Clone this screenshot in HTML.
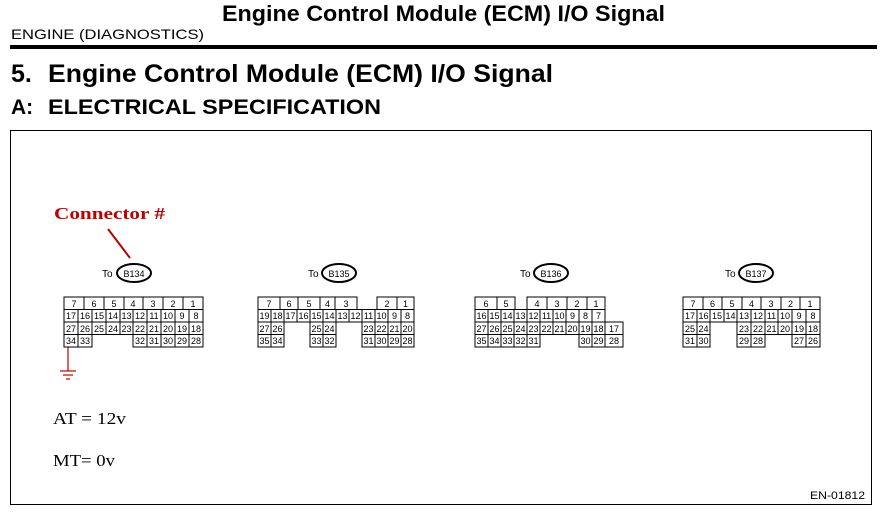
<!DOCTYPE html>
<html><head><meta charset="utf-8"><style>
html,body{margin:0;padding:0;background:#fff;width:883px;height:514px;overflow:hidden}
svg{display:block}
.p{font-family:"Liberation Sans",sans-serif;font-size:9px;text-anchor:middle;fill:#000}
.c rect{fill:none;stroke:#000;stroke-width:1}
</style></head><body>
<svg width="883" height="514" viewBox="0 0 883 514" xmlns="http://www.w3.org/2000/svg">
<text x="222" y="21" font-family="Liberation Sans,sans-serif" font-weight="bold" font-size="22" textLength="443" lengthAdjust="spacingAndGlyphs">Engine Control Module (ECM) I/O Signal</text>
<text x="11" y="39" font-family="Liberation Sans,sans-serif" font-size="14" textLength="193" lengthAdjust="spacingAndGlyphs">ENGINE (DIAGNOSTICS)</text>
<rect x="10" y="45" width="867" height="4" fill="#000"/>
<text x="11" y="82" font-family="Liberation Sans,sans-serif" font-weight="bold" font-size="25">5.</text>
<text x="48" y="82" font-family="Liberation Sans,sans-serif" font-weight="bold" font-size="25" textLength="505" lengthAdjust="spacingAndGlyphs">Engine Control Module (ECM) I/O Signal</text>
<text x="11" y="114" font-family="Liberation Sans,sans-serif" font-weight="bold" font-size="21">A:</text>
<text x="48" y="114" font-family="Liberation Sans,sans-serif" font-weight="bold" font-size="21" textLength="333" lengthAdjust="spacingAndGlyphs">ELECTRICAL SPECIFICATION</text>
<rect x="10.5" y="130.5" width="861" height="374" fill="none" stroke="#000"/>
<text x="54" y="219" font-family="Liberation Serif,serif" font-weight="bold" font-size="17" fill="#c00000" textLength="111" lengthAdjust="spacingAndGlyphs">Connector #</text>
<line x1="108" y1="229" x2="130" y2="258" stroke="#c00000" stroke-width="2"/>
<text x="53" y="424" font-family="Liberation Serif,serif" font-size="17" textLength="73" lengthAdjust="spacingAndGlyphs">AT = 12v</text>
<text x="53" y="466" font-family="Liberation Serif,serif" font-size="17" textLength="62" lengthAdjust="spacingAndGlyphs">MT= 0v</text>
<text x="810" y="499" font-family="Liberation Sans,sans-serif" font-size="11" textLength="55" lengthAdjust="spacingAndGlyphs">EN-01812</text>
<g stroke="#c00000" stroke-width="1.2"><line x1="68" y1="347" x2="68" y2="371"/><line x1="60" y1="371" x2="76" y2="371"/><line x1="63" y1="375" x2="73" y2="375"/><line x1="66" y1="379" x2="70" y2="379"/></g>

<g font-family="Liberation Sans,sans-serif" font-size="10">
<text x="102" y="277">To</text><ellipse cx="134" cy="273" rx="17" ry="9" fill="none" stroke="#000" stroke-width="2"/><text x="134" y="277" text-anchor="middle" font-size="9">B134</text>
<text x="308" y="277">To</text><ellipse cx="339" cy="273" rx="17" ry="9" fill="none" stroke="#000" stroke-width="2"/><text x="339" y="277" text-anchor="middle" font-size="9">B135</text>
<text x="520" y="277">To</text><ellipse cx="551" cy="273" rx="17" ry="9" fill="none" stroke="#000" stroke-width="2"/><text x="551" y="277" text-anchor="middle" font-size="9">B136</text>
<text x="725" y="277">To</text><ellipse cx="756" cy="273" rx="17" ry="9" fill="none" stroke="#000" stroke-width="2"/><text x="756" y="277" text-anchor="middle" font-size="9">B137</text>
</g>

<!-- B134 -->
<g class="c">
<rect x="64" y="297" width="20" height="12.5"/><rect x="84" y="297" width="20" height="12.5"/><rect x="104" y="297" width="20" height="12.5"/><rect x="124" y="297" width="19" height="12.5"/><rect x="143" y="297" width="20" height="12.5"/><rect x="163" y="297" width="20" height="12.5"/><rect x="183" y="297" width="20" height="12.5"/>
<rect x="64" y="309.5" width="14" height="12.5"/><rect x="78" y="309.5" width="14" height="12.5"/><rect x="92" y="309.5" width="14" height="12.5"/><rect x="106" y="309.5" width="14" height="12.5"/><rect x="120" y="309.5" width="13" height="12.5"/><rect x="133" y="309.5" width="14" height="12.5"/><rect x="147" y="309.5" width="14" height="12.5"/><rect x="161" y="309.5" width="14" height="12.5"/><rect x="175" y="309.5" width="14" height="12.5"/><rect x="189" y="309.5" width="14" height="12.5"/>
<rect x="64" y="322" width="14" height="12.5"/><rect x="78" y="322" width="14" height="12.5"/><rect x="92" y="322" width="14" height="12.5"/><rect x="106" y="322" width="14" height="12.5"/><rect x="120" y="322" width="13" height="12.5"/><rect x="133" y="322" width="14" height="12.5"/><rect x="147" y="322" width="14" height="12.5"/><rect x="161" y="322" width="14" height="12.5"/><rect x="175" y="322" width="14" height="12.5"/><rect x="189" y="322" width="14" height="12.5"/>
<rect x="64" y="334.5" width="14" height="12.5"/><rect x="78" y="334.5" width="14" height="12.5"/><rect x="133" y="334.5" width="14" height="12.5"/><rect x="147" y="334.5" width="14" height="12.5"/><rect x="161" y="334.5" width="14" height="12.5"/><rect x="175" y="334.5" width="14" height="12.5"/><rect x="189" y="334.5" width="14" height="12.5"/>
</g>
<g class="p">
<text x="74" y="307">7</text><text x="94" y="307">6</text><text x="114" y="307">5</text><text x="133" y="307">4</text><text x="153" y="307">3</text><text x="173" y="307">2</text><text x="193" y="307">1</text>
<text x="71" y="319">17</text><text x="85" y="319">16</text><text x="99" y="319">15</text><text x="113" y="319">14</text><text x="126.5" y="319">13</text><text x="140" y="319">12</text><text x="154" y="319">11</text><text x="168" y="319">10</text><text x="182" y="319">9</text><text x="196" y="319">8</text>
<text x="71" y="332">27</text><text x="85" y="332">26</text><text x="99" y="332">25</text><text x="113" y="332">24</text><text x="126.5" y="332">23</text><text x="140" y="332">22</text><text x="154" y="332">21</text><text x="168" y="332">20</text><text x="182" y="332">19</text><text x="196" y="332">18</text>
<text x="71" y="344">34</text><text x="85" y="344">33</text><text x="140" y="344">32</text><text x="154" y="344">31</text><text x="168" y="344">30</text><text x="182" y="344">29</text><text x="196" y="344">28</text>
</g>

<!-- B135 -->
<g class="c">
<rect x="258" y="297" width="22" height="12.5"/><rect x="280" y="297" width="18" height="12.5"/><rect x="298" y="297" width="22" height="12.5"/><rect x="320" y="297" width="15" height="12.5"/><rect x="335" y="297" width="22" height="12.5"/><rect x="377" y="297" width="20" height="12.5"/><rect x="397" y="297" width="17" height="12.5"/>
<rect x="258" y="309.5" width="13" height="12.5"/><rect x="271" y="309.5" width="13" height="12.5"/><rect x="284" y="309.5" width="13" height="12.5"/><rect x="297" y="309.5" width="13" height="12.5"/><rect x="310" y="309.5" width="13" height="12.5"/><rect x="323" y="309.5" width="13" height="12.5"/><rect x="336" y="309.5" width="13" height="12.5"/><rect x="349" y="309.5" width="13" height="12.5"/><rect x="362" y="309.5" width="13" height="12.5"/><rect x="375" y="309.5" width="13" height="12.5"/><rect x="388" y="309.5" width="13" height="12.5"/><rect x="401" y="309.5" width="13" height="12.5"/>
<rect x="258" y="322" width="13" height="12.5"/><rect x="271" y="322" width="13" height="12.5"/><rect x="310" y="322" width="13" height="12.5"/><rect x="323" y="322" width="13" height="12.5"/><rect x="362" y="322" width="13" height="12.5"/><rect x="375" y="322" width="13" height="12.5"/><rect x="388" y="322" width="13" height="12.5"/><rect x="401" y="322" width="13" height="12.5"/>
<rect x="258" y="334.5" width="13" height="12.5"/><rect x="271" y="334.5" width="13" height="12.5"/><rect x="310" y="334.5" width="13" height="12.5"/><rect x="323" y="334.5" width="13" height="12.5"/><rect x="362" y="334.5" width="13" height="12.5"/><rect x="375" y="334.5" width="13" height="12.5"/><rect x="388" y="334.5" width="13" height="12.5"/><rect x="401" y="334.5" width="13" height="12.5"/>
</g>
<g class="p">
<text x="269" y="307">7</text><text x="289" y="307">6</text><text x="309" y="307">5</text><text x="327.5" y="307">4</text><text x="346" y="307">3</text><text x="387" y="307">2</text><text x="405.5" y="307">1</text>
<text x="264.5" y="319">19</text><text x="277.5" y="319">18</text><text x="290.5" y="319">17</text><text x="303.5" y="319">16</text><text x="316.5" y="319">15</text><text x="329.5" y="319">14</text><text x="342.5" y="319">13</text><text x="355.5" y="319">12</text><text x="368.5" y="319">11</text><text x="381.5" y="319">10</text><text x="394.5" y="319">9</text><text x="407.5" y="319">8</text>
<text x="264.5" y="332">27</text><text x="277.5" y="332">26</text><text x="316.5" y="332">25</text><text x="329.5" y="332">24</text><text x="368.5" y="332">23</text><text x="381.5" y="332">22</text><text x="394.5" y="332">21</text><text x="407.5" y="332">20</text>
<text x="264.5" y="344">35</text><text x="277.5" y="344">34</text><text x="316.5" y="344">33</text><text x="329.5" y="344">32</text><text x="368.5" y="344">31</text><text x="381.5" y="344">30</text><text x="394.5" y="344">29</text><text x="407.5" y="344">28</text>
</g>

<!-- B136 -->
<g class="c">
<rect x="475" y="297" width="22" height="12.5"/><rect x="497" y="297" width="18" height="12.5"/><rect x="527" y="297" width="20" height="12.5"/><rect x="547" y="297" width="20" height="12.5"/><rect x="567" y="297" width="20" height="12.5"/><rect x="587" y="297" width="18" height="12.5"/>
<rect x="475" y="309.5" width="13" height="12.5"/><rect x="488" y="309.5" width="13" height="12.5"/><rect x="501" y="309.5" width="13" height="12.5"/><rect x="514" y="309.5" width="13" height="12.5"/><rect x="527" y="309.5" width="13" height="12.5"/><rect x="540" y="309.5" width="13" height="12.5"/><rect x="553" y="309.5" width="13" height="12.5"/><rect x="566" y="309.5" width="13" height="12.5"/><rect x="579" y="309.5" width="13" height="12.5"/><rect x="592" y="309.5" width="13" height="12.5"/>
<rect x="475" y="322" width="13" height="12.5"/><rect x="488" y="322" width="13" height="12.5"/><rect x="501" y="322" width="13" height="12.5"/><rect x="514" y="322" width="13" height="12.5"/><rect x="527" y="322" width="13" height="12.5"/><rect x="540" y="322" width="13" height="12.5"/><rect x="553" y="322" width="13" height="12.5"/><rect x="566" y="322" width="13" height="12.5"/><rect x="579" y="322" width="13" height="12.5"/><rect x="592" y="322" width="13" height="12.5"/><rect x="605" y="322" width="18" height="12.5"/>
<rect x="475" y="334.5" width="13" height="12.5"/><rect x="488" y="334.5" width="13" height="12.5"/><rect x="501" y="334.5" width="13" height="12.5"/><rect x="514" y="334.5" width="13" height="12.5"/><rect x="527" y="334.5" width="13" height="12.5"/><rect x="579" y="334.5" width="13" height="12.5"/><rect x="592" y="334.5" width="13" height="12.5"/><rect x="605" y="334.5" width="18" height="12.5"/>
</g>
<g class="p">
<text x="486" y="307">6</text><text x="506" y="307">5</text><text x="537" y="307">4</text><text x="557" y="307">3</text><text x="577" y="307">2</text><text x="596" y="307">1</text>
<text x="481.5" y="319">16</text><text x="494.5" y="319">15</text><text x="507.5" y="319">14</text><text x="520.5" y="319">13</text><text x="533.5" y="319">12</text><text x="546.5" y="319">11</text><text x="559.5" y="319">10</text><text x="572.5" y="319">9</text><text x="585.5" y="319">8</text><text x="598.5" y="319">7</text>
<text x="481.5" y="332">27</text><text x="494.5" y="332">26</text><text x="507.5" y="332">25</text><text x="520.5" y="332">24</text><text x="533.5" y="332">23</text><text x="546.5" y="332">22</text><text x="559.5" y="332">21</text><text x="572.5" y="332">20</text><text x="585.5" y="332">19</text><text x="598.5" y="332">18</text><text x="614" y="332">17</text>
<text x="481.5" y="344">35</text><text x="494.5" y="344">34</text><text x="507.5" y="344">33</text><text x="520.5" y="344">32</text><text x="533.5" y="344">31</text><text x="585.5" y="344">30</text><text x="598.5" y="344">29</text><text x="614" y="344">28</text>
</g>

<!-- B137 -->
<g class="c">
<rect x="683" y="297" width="20" height="12.5"/><rect x="703" y="297" width="19" height="12.5"/><rect x="722" y="297" width="20" height="12.5"/><rect x="742" y="297" width="19" height="12.5"/><rect x="761" y="297" width="20" height="12.5"/><rect x="781" y="297" width="19" height="12.5"/><rect x="800" y="297" width="20" height="12.5"/>
<rect x="683" y="309.5" width="14" height="12.5"/><rect x="697" y="309.5" width="13" height="12.5"/><rect x="710" y="309.5" width="14" height="12.5"/><rect x="724" y="309.5" width="13" height="12.5"/><rect x="737" y="309.5" width="14" height="12.5"/><rect x="751" y="309.5" width="14" height="12.5"/><rect x="765" y="309.5" width="13" height="12.5"/><rect x="778" y="309.5" width="14" height="12.5"/><rect x="792" y="309.5" width="14" height="12.5"/><rect x="806" y="309.5" width="14" height="12.5"/>
<rect x="683" y="322" width="14" height="12.5"/><rect x="697" y="322" width="13" height="12.5"/><rect x="737" y="322" width="14" height="12.5"/><rect x="751" y="322" width="14" height="12.5"/><rect x="765" y="322" width="13" height="12.5"/><rect x="778" y="322" width="14" height="12.5"/><rect x="792" y="322" width="14" height="12.5"/><rect x="806" y="322" width="14" height="12.5"/>
<rect x="683" y="334.5" width="14" height="12.5"/><rect x="697" y="334.5" width="13" height="12.5"/><rect x="737" y="334.5" width="14" height="12.5"/><rect x="751" y="334.5" width="14" height="12.5"/><rect x="792" y="334.5" width="14" height="12.5"/><rect x="806" y="334.5" width="14" height="12.5"/>
</g>
<g class="p">
<text x="693" y="307">7</text><text x="712.5" y="307">6</text><text x="732" y="307">5</text><text x="751.5" y="307">4</text><text x="771" y="307">3</text><text x="790.5" y="307">2</text><text x="810" y="307">1</text>
<text x="690" y="319">17</text><text x="703.5" y="319">16</text><text x="717" y="319">15</text><text x="730.5" y="319">14</text><text x="744" y="319">13</text><text x="758" y="319">12</text><text x="771.5" y="319">11</text><text x="785" y="319">10</text><text x="799" y="319">9</text><text x="813" y="319">8</text>
<text x="690" y="332">25</text><text x="703.5" y="332">24</text><text x="744" y="332">23</text><text x="758" y="332">22</text><text x="771.5" y="332">21</text><text x="785" y="332">20</text><text x="799" y="332">19</text><text x="813" y="332">18</text>
<text x="690" y="344">31</text><text x="703.5" y="344">30</text><text x="744" y="344">29</text><text x="758" y="344">28</text><text x="799" y="344">27</text><text x="813" y="344">26</text>
</g>
</svg>
</body></html>
